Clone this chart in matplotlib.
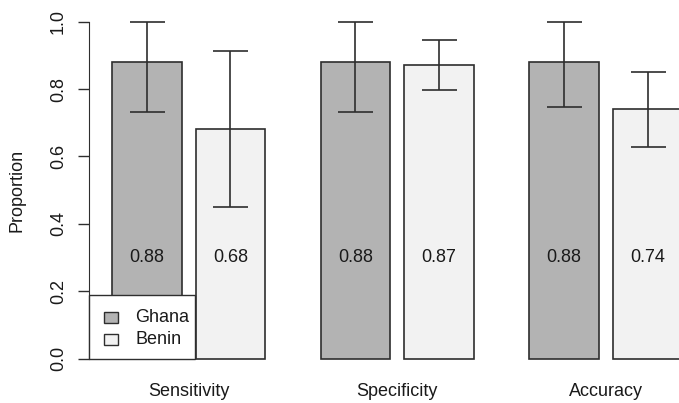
import matplotlib
matplotlib.use("Agg")
from matplotlib import pyplot as plt
from matplotlib.patches import Rectangle
import numpy as np

plt.rcParams['font.family'] = ['Liberation Sans', 'DejaVu Sans']

categories = ['Sensitivity', 'Specificity', 'Accuracy']
countries = ['Ghana', 'Benin']
ghana = [0.88, 0.88, 0.88]
ghana_lo = [0.733, 0.733, 0.746]
ghana_hi = [1.0, 1.0, 1.0]
benin = [0.68, 0.87, 0.74]
benin_lo = [0.449, 0.796, 0.628]
benin_hi = [0.912, 0.946, 0.852]

colors = ['#b3b3b3', '#f2f2f2']
edge = '#2e2e2e'

fig = plt.figure(figsize=(6.79, 4.03), dpi=100)
ax = fig.add_axes([0.1315, 0.0769, 0.907, 0.9027])

group_left = 0.8 + 3 * np.arange(len(categories))
series = [(ghana, ghana_lo, ghana_hi), (benin, benin_lo, benin_hi)]

for k, (vals, lo, hi) in enumerate(series):
    left = group_left + 1.2 * k
    ax.bar(left, vals, width=1.0, align='edge', color=colors[k],
           edgecolor=edge, linewidth=1.2, zorder=2)
    centers = left + 0.5
    vals = np.array(vals)
    yerr = [vals - np.array(lo), np.array(hi) - vals]
    ax.errorbar(centers, vals, yerr=yerr, fmt='none', ecolor=edge,
                elinewidth=1.2, capsize=12.6, capthick=1.2, zorder=3)
    for x, v in zip(centers, vals):
        ax.text(x, 0.3, f'{v:.2f}', ha='center', va='center',
                fontsize=13, color='#1a1a1a', zorder=4)

for x, name in zip(group_left + 1.1, categories):
    ax.text(x, -0.0966, name, ha='center', va='center', fontsize=13,
            color='#1a1a1a', clip_on=False)

# legend box in the bottom-left corner
ax.add_patch(Rectangle((0.472, 0.0), 1.993 - 0.472, 0.189, facecolor='white',
                       edgecolor=edge, linewidth=1.0, zorder=5, clip_on=False))
for k, (name, ys, yt) in enumerate(zip(countries, [0.106, 0.040], [0.122, 0.0565])):
    ax.add_patch(Rectangle((0.689, ys), 0.2, 0.033, facecolor=colors[k],
                           edgecolor=edge, linewidth=1.0, zorder=6))
    ax.text(1.131, yt, name, ha='left', va='center', fontsize=13,
            color='#1a1a1a', zorder=6)

ax.set_xlim(0.472, 9.328)
ax.set_ylim(-0.04, 1.04)
for s in ['top', 'right', 'bottom']:
    ax.spines[s].set_visible(False)
ax.spines['left'].set_bounds(0, 1)
ax.spines['left'].set_color(edge)
ax.set_xticks([])
ax.set_yticks([0.0, 0.2, 0.4, 0.6, 0.8, 1.0])
ax.set_yticklabels(['0.0', '0.2', '0.4', '0.6', '0.8', '1.0'], rotation=90,
                   va='center', fontsize=13, color='#1a1a1a')
ax.tick_params(axis='y', length=8, width=1.0, color=edge, pad=8)
ax.set_ylabel('Proportion', fontsize=13, color='#1a1a1a')
ax.yaxis.set_label_coords(-(89.3 - 25.5) / (0.907 * 679), 0.5)

fig.savefig('out.png', dpi=100)
